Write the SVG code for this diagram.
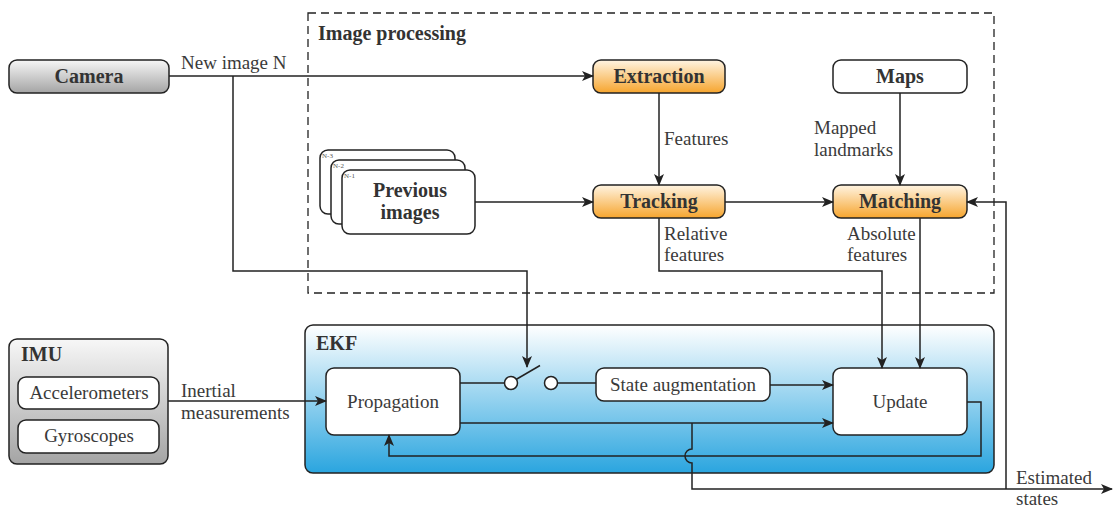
<svg xmlns="http://www.w3.org/2000/svg" width="1114" height="509" viewBox="0 0 1114 509" font-family="'Liberation Serif', 'Times New Roman', Times, 'DejaVu Serif', serif">
  <defs>
    <linearGradient id="gGray" x1="0" y1="0" x2="0" y2="1">
      <stop offset="0" stop-color="#f7f7f7"/>
      <stop offset="1" stop-color="#a4a4a4"/>
    </linearGradient>
    <linearGradient id="gOrange" x1="0" y1="0" x2="0" y2="1">
      <stop offset="0" stop-color="#fff4e2"/>
      <stop offset="1" stop-color="#f6a52e"/>
    </linearGradient>
    <linearGradient id="gBlue" x1="0" y1="0" x2="0" y2="1">
      <stop offset="0" stop-color="#ffffff"/>
      <stop offset="1" stop-color="#2aa5df"/>
    </linearGradient>
    <marker id="arr" viewBox="0 0 12 10" refX="11" refY="5" markerWidth="12" markerHeight="10" markerUnits="userSpaceOnUse" orient="auto">
      <path d="M0,0 L12,5 L0,10 L3,5 Z" fill="#222"/>
    </marker>
    <style>
      .box { stroke: #222; stroke-width: 1.5; }
      .w { fill: #fff; }
      .gray { fill: url(#gGray); }
      .orange { fill: url(#gOrange); }
      .t { font-family: 'Liberation Serif', 'Times New Roman', Times, 'DejaVu Serif', serif; font-size: 19px; fill: #3a3a3a; }
      .b { font-family: 'Liberation Serif', 'Times New Roman', Times, 'DejaVu Serif', serif; font-size: 20px; font-weight: bold; fill: #333; }
      .c { text-anchor: middle; }
      .tiny { font-family: 'Liberation Serif', 'Times New Roman', Times, serif; font-size: 7px; fill: #555; }
      .ln { fill: none; stroke: #222; stroke-width: 1.5; }
      .a { marker-end: url(#arr); }
    </style>
  </defs>

  <!-- Image processing frame -->
  <g id="image-processing">
    <rect x="308" y="13" width="686" height="280" fill="none" stroke="#222" stroke-width="1.3" stroke-dasharray="8,5"/>
    <text class="b" x="318" y="40">Image processing</text>
  </g>

  <!-- EKF container -->
  <g id="ekf">
    <rect class="box" x="305" y="325" width="689" height="148" rx="8" fill="url(#gBlue)"/>
    <text class="b" x="316" y="350">EKF</text>
  </g>

  <g id="camera">
    <rect class="box gray" x="9" y="60" width="160" height="33" rx="8"/>
    <text class="b c" x="89" y="83">Camera</text>
  </g>

  <g id="extraction">
    <rect class="box orange" x="593" y="60" width="132" height="33" rx="8"/>
    <text class="b c" x="659" y="83">Extraction</text>
  </g>

  <g id="maps">
    <rect class="box w" x="833" y="60" width="134" height="33" rx="8"/>
    <text class="b c" x="900" y="83">Maps</text>
  </g>

  <g id="tracking">
    <rect class="box orange" x="593" y="185" width="132" height="33" rx="8"/>
    <text class="b c" x="659" y="208">Tracking</text>
  </g>

  <g id="matching">
    <rect class="box orange" x="833" y="185" width="134" height="33" rx="8"/>
    <text class="b c" x="900" y="208">Matching</text>
  </g>

  <g id="previous-images">
    <rect class="box w" x="320" y="150" width="135" height="64" rx="8"/>
    <text class="tiny" x="322" y="158">N-3</text>
    <rect class="box w" x="331" y="160" width="134" height="64" rx="8"/>
    <text class="tiny" x="333" y="168">N-2</text>
    <rect class="box w" x="342" y="170" width="133" height="64" rx="8"/>
    <text class="tiny" x="344" y="178">N-1</text>
    <text class="b c" x="410" y="197">Previous</text>
    <text class="b c" x="410" y="219">images</text>
  </g>

  <g id="imu">
    <rect class="box gray" x="9" y="339" width="159" height="125" rx="8"/>
    <text class="b" x="21" y="361">IMU</text>
    <g id="accelerometers">
      <rect class="box w" x="18" y="377" width="141" height="32" rx="8"/>
      <text class="t c" x="89" y="399">Accelerometers</text>
    </g>
    <g id="gyroscopes">
      <rect class="box w" x="18" y="420" width="141" height="33" rx="8"/>
      <text class="t c" x="89" y="442">Gyroscopes</text>
    </g>
  </g>

  <g id="propagation">
    <rect class="box w" x="326" y="368" width="134" height="67" rx="8"/>
    <text class="t c" x="393" y="408">Propagation</text>
  </g>

  <g id="state-augmentation">
    <rect class="box w" x="596" y="368" width="174" height="33" rx="8"/>
    <text class="t c" x="683" y="391">State augmentation</text>
  </g>

  <g id="update">
    <rect class="box w" x="833" y="368" width="134" height="67" rx="8"/>
    <text class="t c" x="900" y="408">Update</text>
  </g>

  <!-- Connectors -->
  <g id="connectors">
    <path class="ln a" d="M169,76 H593"/>
    <path class="ln a" d="M233,76 V271 H527 V367"/>
    <path class="ln a" d="M659,93 V185"/>
    <path class="ln a" d="M900,93 V185"/>
    <path class="ln a" d="M475,202 H593"/>
    <path class="ln a" d="M725,202 H833"/>
    <path class="ln a" d="M659,218 V271 H882 V368"/>
    <path class="ln a" d="M920,218 V368"/>
    <path class="ln a" d="M1006,489 V202 H967"/>
    <path class="ln a" d="M168,401 H326"/>
    <!-- switch -->
    <path class="ln" d="M460,383 H504.5"/>
    <circle cx="511" cy="383" r="6.5" fill="#fff" stroke="#222" stroke-width="1.5"/>
    <path class="ln" d="M516,379.5 L540,365.5"/>
    <circle cx="551" cy="383" r="6.5" fill="#fff" stroke="#222" stroke-width="1.5"/>
    <path class="ln" d="M557.5,383 H596"/>
    <path class="ln a" d="M770,385 H833"/>
    <path class="ln a" d="M460,423 H833"/>
    <path class="ln a" d="M967,402 H981 V456 H389 V435"/>
    <path class="ln a" d="M692,423 V449 A7,7 0 0 0 692,463 V489 H1112"/>
  </g>

  <!-- Connector labels -->
  <g id="labels">
    <text class="t" x="181" y="69">New image N</text>
    <text class="t" x="664" y="145">Features</text>
    <text class="t" x="814" y="134">Mapped</text>
    <text class="t" x="814" y="156">landmarks</text>
    <text class="t" x="664" y="240">Relative</text>
    <text class="t" x="664" y="261">features</text>
    <text class="t" x="847" y="240">Absolute</text>
    <text class="t" x="847" y="261">features</text>
    <text class="t" x="181" y="397">Inertial</text>
    <text class="t" x="181" y="419">measurements</text>
    <text class="t" x="1016" y="484">Estimated</text>
    <text class="t" x="1016" y="505">states</text>
  </g>
</svg>
